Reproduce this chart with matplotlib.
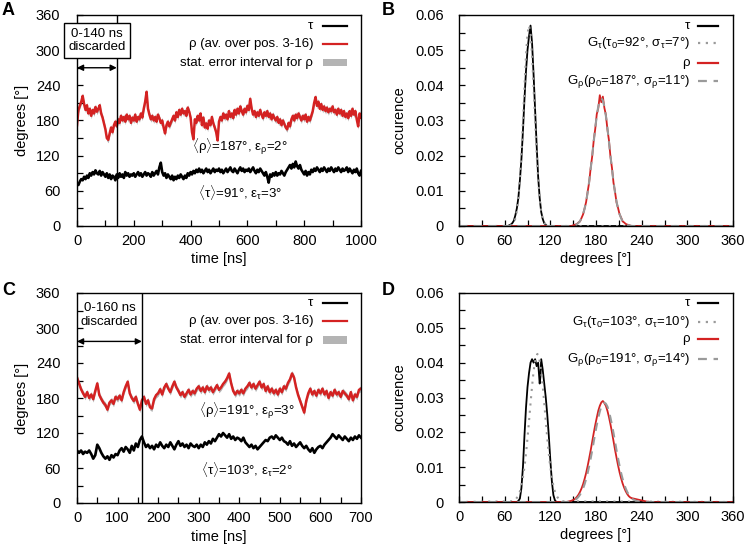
import numpy as np
import matplotlib
matplotlib.use("Agg")
import matplotlib.pyplot as plt
from matplotlib.lines import Line2D
from matplotlib.patches import Rectangle
from matplotlib.ticker import MultipleLocator, FuncFormatter

plt.rcParams['font.family'] = ['Liberation Sans', 'DejaVu Sans']
plt.rcParams['mathtext.fontset'] = 'custom'
plt.rcParams['mathtext.rm'] = 'Liberation Sans'

# ---------------- Panel A data (time step 5 ns) ----------------
a_time = np.arange(0, 1001, 5)
a_rho = [
    172, 198, 205, 212, 222, 208, 198, 206, 192, 200, 188, 198, 192, 203, 195, 200, 206, 192, 185, 175,
    165, 150, 147, 158, 168, 160, 172, 178, 170, 182, 176, 188, 180, 186, 178, 190, 182, 188, 176, 185,
    180, 190, 178, 186, 182, 192, 185, 200, 212, 229, 200, 190, 182, 188, 180, 186, 178, 190, 184, 176,
    180, 168, 158, 172, 178, 170, 176, 182, 188, 180, 194, 186, 198, 190, 200, 192, 196, 188, 202, 195,
    185, 160, 148, 182, 176, 188, 180, 192, 172, 185, 168, 175, 166, 180, 172, 186, 175, 168, 160, 146,
    178, 186, 180, 192, 184, 190, 182, 196, 186, 192, 184, 198, 190, 200, 192, 204, 196, 190, 200, 194,
    205, 198, 217, 200, 190, 196, 186, 194, 188, 198, 190, 184, 194, 188, 196, 186, 192, 182, 190, 184,
    180, 186, 176, 182, 172, 180, 174, 168, 165, 176, 170, 182, 188, 180, 190, 184, 192, 186, 180, 188,
    182, 190, 178, 186, 180, 188, 196, 210, 220, 205, 212, 200, 208, 198, 204, 196, 202, 194, 200, 196,
    204, 194, 198, 190, 200, 192, 198, 188, 196, 186, 192, 184, 196, 188, 200, 190, 196, 182, 170, 192, 185,
]
a_tau = [
    72, 70, 76, 80, 78, 84, 80, 86, 82, 90, 86, 92, 88, 95, 90, 88, 94, 86, 92, 88,
    84, 90, 82, 88, 80, 86, 84, 78, 88, 82, 90, 84, 88, 82, 92, 86, 90, 84, 88, 86,
    90, 84, 88, 92, 86, 90, 84, 88, 92, 86, 90, 88, 84, 92, 86, 90, 94, 88, 100, 108,
    92, 86, 90, 82, 88, 84, 80, 86, 78, 84, 80, 86, 82, 88, 84, 80, 86, 82, 90, 86,
    92, 88, 94, 90, 96, 92, 98, 92, 96, 90, 94, 98, 92, 96, 90, 94, 98, 92, 96, 94,
    98, 92, 96, 90, 94, 98, 92, 96, 100, 94, 92, 98, 94, 90, 96, 100, 94, 98, 92, 96,
    94, 98, 92, 96, 100, 94, 90, 96, 92, 98, 94, 90, 86, 92, 84, 74, 88, 84, 90, 86,
    92, 86, 90, 88, 94, 90, 86, 92, 96, 100, 104, 98, 106, 100, 110, 102, 98, 104, 96, 92,
    88, 94, 86, 92, 88, 96, 92, 98, 94, 100, 96, 92, 98, 94, 100, 96, 92, 98, 94, 100,
    96, 92, 98, 94, 100, 96, 92, 98, 94, 96, 100, 92, 98, 94, 90, 96, 92, 98, 90, 86, 94,
]
a_rho_err = 5.0
a_discard = 140

# ---------------- Panel C data (time step 5 ns) ----------------
c_time = np.arange(0, 701, 5)
c_rho = [
    215, 205, 195, 188, 182, 190, 180, 186, 178, 192, 205, 185, 178, 172, 168, 160, 172, 176, 170, 182,
    178, 184, 176, 190, 200, 208, 188, 180, 175, 182, 170, 160, 176, 182, 170, 176, 164, 162, 178, 185,
    188, 195, 186, 198, 204, 196, 190, 200, 208, 198, 192, 185, 190, 182, 188, 194, 186, 192, 188, 196,
    200, 192, 198, 190, 200, 194, 198, 190, 196, 202, 194, 198, 204, 208, 214, 222, 205, 192, 186, 192,
    188, 194, 188, 196, 200, 206, 198, 204, 196, 202, 208, 198, 204, 192, 200, 190, 196, 188, 194, 186,
    196, 190, 200, 196, 206, 212, 222, 215, 198, 185, 175, 165, 155, 175, 188, 196, 186, 192, 184, 194,
    188, 196, 186, 192, 180, 190, 184, 194, 186, 190, 182, 192, 188, 184, 178, 190, 176, 186, 182, 194, 196,
]
c_tau = [
    90, 86, 90, 84, 88, 86, 90, 84, 76, 82, 100, 94, 86, 80, 76, 80, 74, 82, 78, 84,
    82, 90, 94, 88, 96, 92, 86, 98, 90, 102, 96, 108, 114, 104, 96, 100, 94, 98, 92, 100,
    96, 104, 98, 94, 100, 96, 104, 98, 92, 100, 106, 98, 102, 96, 100, 94, 102, 98, 96, 100,
    94, 100, 96, 104, 100, 106, 102, 110, 106, 112, 118, 114, 120, 116, 112, 118, 110, 114, 108, 112,
    110, 106, 112, 104, 100, 96, 100, 94, 98, 92, 96, 100, 104, 108, 106, 112, 114, 110, 116, 112,
    108, 112, 106, 104, 100, 106, 98, 102, 96, 100, 104, 98, 94, 98, 92, 88, 94, 86, 92, 96,
    98, 94, 100, 104, 108, 112, 118, 114, 110, 116, 112, 108, 114, 110, 106, 112, 108, 114, 110, 116, 112,
]
c_rho_err = 5.0
c_discard = 160

# ---------------- Panel B data (distributions) ----------------
b_tau_x = [0, 64, 66, 68, 70, 72, 74, 76, 78, 80, 82, 84, 86, 88, 90, 92, 94, 96, 98, 100,
           102, 104, 106, 108, 110, 112, 114, 116, 360]
b_tau_y = [0, 0, 0.0002, 0.0004, 0.0008, 0.0015, 0.003, 0.005, 0.008, 0.013, 0.019, 0.027, 0.036, 0.044,
           0.050, 0.054, 0.057, 0.052, 0.043, 0.033, 0.023, 0.014, 0.008, 0.004, 0.002, 0.0008, 0.0003, 0, 0]
b_gtau_x = [0, 64, 66, 68, 70, 72, 74, 76, 78, 80, 82, 84, 86, 88, 90, 92, 94, 96, 98, 100,
            102, 104, 106, 108, 110, 112, 114, 116, 118, 120, 360]
b_gtau_y = [0, 0, 0.0001, 0.0002, 0.0004, 0.0010, 0.0021, 0.0042, 0.0077, 0.0131, 0.0205, 0.0297,
            0.0395, 0.0484, 0.0547, 0.0570, 0.0547, 0.0484, 0.0395, 0.0297, 0.0205, 0.0131, 0.0077,
            0.0042, 0.0021, 0.0010, 0.0004, 0.0002, 0.0001, 0, 0]
b_rho_x = [0] + list(range(147, 228, 2)) + [360]
b_rho_y = [0, 0, 0.0001, 0.0003, 0.0004, 0.0006, 0.0010, 0.0013, 0.0023, 0.0033, 0.0050, 0.0068,
           0.0097, 0.0124, 0.0165, 0.0198, 0.0243, 0.0276, 0.0318, 0.0335, 0.0372, 0.0352, 0.0368,
           0.0336, 0.0316, 0.0275, 0.0244, 0.0197, 0.0165, 0.0123, 0.0097, 0.0067, 0.0051, 0.0033,
           0.0024, 0.0013, 0.0010, 0.0006, 0.0004, 0.0003, 0.0001, 0, 0]
b_grho_x = [0] + list(range(147, 228, 2)) + [360]
b_grho_y = [0, 0, 0.0001, 0.0002, 0.0003, 0.0005, 0.0009, 0.0014, 0.0022, 0.0034, 0.0049, 0.0069,
            0.0095, 0.0126, 0.0162, 0.0200, 0.0240, 0.0279, 0.0313, 0.0340, 0.0357, 0.0363, 0.0357,
            0.0340, 0.0313, 0.0279, 0.0240, 0.0200, 0.0162, 0.0126, 0.0095, 0.0069, 0.0049, 0.0034,
            0.0022, 0.0014, 0.0009, 0.0005, 0.0003, 0.0002, 0.0001, 0, 0]

# ---------------- Panel D data (distributions) ----------------
d_tau_x = [0, 76, 78, 80, 82, 84, 86, 88, 90, 92, 94, 96, 98, 100, 102, 104, 106, 107, 108, 110,
           112, 114, 116, 118, 120, 122, 124, 126, 128, 360]
d_tau_y = [0, 0, 0.0003, 0.001, 0.004, 0.010, 0.019, 0.027, 0.033, 0.037, 0.040, 0.041, 0.040, 0.041,
           0.039, 0.040, 0.034, 0.036, 0.041, 0.038, 0.034, 0.030, 0.025, 0.019, 0.012, 0.006, 0.002,
           0.0005, 0, 0]
d_gtau_x = [0] + list(range(71, 136, 2)) + [360]
d_gtau_y = [0, 0.0002, 0.0004, 0.0009, 0.0015, 0.0023, 0.0037, 0.0058, 0.0084, 0.0118, 0.0160,
            0.0207, 0.0258, 0.0309, 0.0355, 0.0392, 0.0416, 0.0425, 0.0416, 0.0392, 0.0355, 0.0309,
            0.0258, 0.0207, 0.0160, 0.0118, 0.0084, 0.0058, 0.0037, 0.0023, 0.0015, 0.0009, 0.0004,
            0.0002, 0]
d_rho_x = [0] + list(range(141, 252, 2)) + [360]
d_rho_y = [0, 0, 0.0001, 0.0002, 0.0003, 0.0005, 0.0007, 0.0010, 0.0015, 0.0021, 0.0029, 0.0039,
           0.0051, 0.0066, 0.0083, 0.0103, 0.0125, 0.0148, 0.0173, 0.0198, 0.0221, 0.0242, 0.0262,
           0.0276, 0.0286, 0.0290, 0.0284, 0.0276, 0.0262, 0.0244, 0.0223, 0.0200, 0.0175, 0.0150,
           0.0127, 0.0105, 0.0085, 0.0068, 0.0053, 0.0041, 0.0031, 0.0023, 0.0017, 0.0013, 0.0011,
           0.0010, 0.0009, 0.0008, 0.0007, 0.0006, 0.0005, 0.0004, 0.0003, 0.0002, 0.0001, 0.0001,
           0, 0]
d_grho_x = [0] + list(range(143, 240, 2)) + [360]
d_grho_y = [0, 0, 0.0001, 0.0002, 0.0003, 0.0005, 0.0007, 0.0010, 0.0015, 0.0021, 0.0029, 0.0039,
            0.0051, 0.0066, 0.0083, 0.0103, 0.0125, 0.0148, 0.0173, 0.0198, 0.0221, 0.0242, 0.0260,
            0.0274, 0.0282, 0.0285, 0.0282, 0.0274, 0.0260, 0.0242, 0.0221, 0.0198, 0.0173, 0.0148,
            0.0125, 0.0103, 0.0083, 0.0066, 0.0051, 0.0039, 0.0029, 0.0021, 0.0015, 0.0010, 0.0007,
            0.0005, 0.0003, 0.0002, 0.0001, 0, 0]

RED = '#d42222'
GRAY = '#9a9a9a'
BAND = '#b4b4b4'
TICK_FS = 10.5
LEG_FS = 9.5

W, H = 747, 558
fig = plt.figure(figsize=(W / 100, H / 100), dpi=100)


def px_axes(l, r, t, b):
    return fig.add_axes([l / W, 1 - b / H, (r - l) / W, (b - t) / H])


def style(ax):
    for s in ax.spines.values():
        s.set_linewidth(1.0)
    ax.tick_params(which='both', direction='in', top=False, right=False,
                   labelsize=TICK_FS, width=0.9)
    ax.tick_params(which='major', length=4)
    ax.tick_params(which='minor', length=4)
    ax.tick_params(axis='y', pad=12)
    ax.tick_params(axis='x', pad=6)


def legend_rows(ax, rows, text_x, l0, l1):
    for (label, kind, y) in rows:
        ax.text(text_x, y, label, transform=ax.transAxes, ha='right', va='center',
                fontsize=LEG_FS)
        if kind == 'black':
            ax.add_line(Line2D([l0, l1], [y, y], transform=ax.transAxes, color='black', lw=1.6))
        elif kind == 'red':
            ax.add_line(Line2D([l0, l1], [y, y], transform=ax.transAxes, color=RED, lw=1.6))
        elif kind == 'band':
            ax.add_patch(Rectangle((l0, y - 0.017), l1 - l0, 0.034, transform=ax.transAxes,
                                   color=BAND, lw=0))
        elif kind == 'dot':
            ax.add_line(Line2D([l0, l1], [y, y], transform=ax.transAxes, color=GRAY, lw=1.6,
                               linestyle=(0, (1, 2.5))))
        elif kind == 'dash':
            ax.add_line(Line2D([l0, l1], [y, y], transform=ax.transAxes, color=GRAY, lw=1.6,
                               linestyle=(0, (4, 3))))


def time_panel(ax, t, rho, tau, err, tmax, discard, xmajor, xminor, ann, disc_text_y, arrow_y,
               boxed, rho_lab, tau_lab, ann_x, rho_ann_y, tau_ann_y, leg_y):
    rho = np.asarray(rho, float)
    ax.fill_between(t, rho - err, rho + err, color=BAND, lw=0)
    ax.plot(t, rho, color=RED, lw=1.8)
    ax.plot(t, tau, color='black', lw=1.9)
    ax.axvline(discard, color='black', lw=1.0)
    ax.set_xlim(0, tmax)
    ax.set_ylim(0, 360)
    ax.xaxis.set_major_locator(MultipleLocator(xmajor))
    ax.xaxis.set_minor_locator(MultipleLocator(xminor))
    ax.yaxis.set_major_locator(MultipleLocator(60))
    ax.yaxis.set_minor_locator(MultipleLocator(30))
    style(ax)
    ax.set_xlabel('time [ns]', fontsize=TICK_FS, labelpad=3)
    ax.set_ylabel('degrees [°]', fontsize=TICK_FS, labelpad=5)
    ax.annotate('', xy=(0, arrow_y), xytext=(discard, arrow_y),
                arrowprops=dict(arrowstyle='<|-|>', color='black', lw=1.0,
                                mutation_scale=9, shrinkA=0, shrinkB=0))
    bbox = dict(boxstyle='square,pad=0.35', fc='white', ec='black', lw=1.0) if boxed else None
    ax.text(discard / 2, disc_text_y, ann, ha='center', va='center', fontsize=LEG_FS,
            bbox=bbox, linespacing=1.15)
    ax.text(ann_x, rho_ann_y, rho_lab, ha='center', va='center', fontsize=LEG_FS)
    ax.text(ann_x, tau_ann_y, tau_lab, ha='center', va='center', fontsize=LEG_FS)
    legend_rows(ax, [('τ', 'black', leg_y[0]),
                     ('ρ (av. over pos. 3-16)', 'red', leg_y[1]),
                     ('stat. error interval for ρ', 'band', leg_y[2])],
                0.831, 0.866, 0.951)


def dist_panel(ax, tx, ty, gtx, gty, rx, ry, grx, gry, gt_lab, gr_lab, leg_y):
    ax.plot(tx, ty, color='black', lw=1.3)
    ax.plot(gtx, gty, color=GRAY, lw=1.5, linestyle=(0, (1, 2.5)))
    ax.plot(rx, ry, color=RED, lw=1.3)
    ax.plot(grx, gry, color=GRAY, lw=1.5, linestyle=(0, (4, 3)))
    ax.set_xlim(0, 360)
    ax.set_ylim(0, 0.06)
    ax.xaxis.set_major_locator(MultipleLocator(60))
    ax.xaxis.set_minor_locator(MultipleLocator(30))
    ax.yaxis.set_major_locator(MultipleLocator(0.01))
    ax.yaxis.set_minor_locator(MultipleLocator(0.005))
    ax.yaxis.set_major_formatter(FuncFormatter(lambda v, p: '0' if abs(v) < 1e-9 else f'{v:.2f}'))
    style(ax)
    ax.tick_params(axis='y', pad=11)
    ax.set_xlabel('degrees [°]', fontsize=TICK_FS, labelpad=3)
    ax.set_ylabel('occurence', fontsize=TICK_FS, labelpad=6)
    legend_rows(ax, [('τ', 'black', leg_y[0]),
                     (gt_lab, 'dot', leg_y[1]),
                     ('ρ', 'red', leg_y[2]),
                     (gr_lab, 'dash', leg_y[3])],
                0.843, 0.872, 0.945)


def sub(s):
    return r'$_\mathregular{' + s + '}$'


def mean(s):
    return r'$\langle\mathregular{' + s + r'}\rangle$'


axA = px_axes(77, 361, 15, 226)
time_panel(axA, a_time, a_rho, a_tau, a_rho_err, 1000, a_discard, 200, 100,
           '0-140 ns\ndiscarded', 316, 270, True,
           mean('ρ') + '=187°, ε' + sub('ρ') + '=2°', mean('τ') + '=91°, ε' + sub('τ') + '=3°',
           574, 135, 58, (0.948, 0.863, 0.773))

axB = px_axes(459, 733, 15, 226)
dist_panel(axB, b_tau_x, b_tau_y, b_gtau_x, b_gtau_y, b_rho_x, b_rho_y, b_grho_x, b_grho_y,
           'G' + sub('τ') + '(τ' + sub('0') + '=92°, σ' + sub('τ') + '=7°)',
           'G' + sub('ρ') + '(ρ' + sub('0') + '=187°, σ' + sub('ρ') + '=11°)',
           (0.948, 0.867, 0.773, 0.687))

axC = px_axes(77, 361, 293, 503)
time_panel(axC, c_time, c_rho, c_tau, c_rho_err, 700, c_discard, 100, 50,
           '0-160 ns\ndiscarded', 322, 277, False,
           mean('ρ') + '=191°, ε' + sub('ρ') + '=3°', mean('τ') + '=103°, ε' + sub('τ') + '=2°',
           419, 158, 58, (0.952, 0.867, 0.776))

axD = px_axes(459, 733, 293, 502)
dist_panel(axD, d_tau_x, d_tau_y, d_gtau_x, d_gtau_y, d_rho_x, d_rho_y, d_grho_x, d_grho_y,
           'G' + sub('τ') + '(τ' + sub('0') + '=103°, σ' + sub('τ') + '=10°)',
           'G' + sub('ρ') + '(ρ' + sub('0') + '=191°, σ' + sub('ρ') + '=14°)',
           (0.952, 0.861, 0.780, 0.684))

for lab, x, y in [('A', 2, 2), ('B', 382, 2), ('C', 2, 282), ('D', 382, 282)]:
    fig.text(x / W, 1 - y / H, lab, fontsize=13, fontweight='bold', ha='left', va='top')

fig.savefig('out.png', dpi=100)
